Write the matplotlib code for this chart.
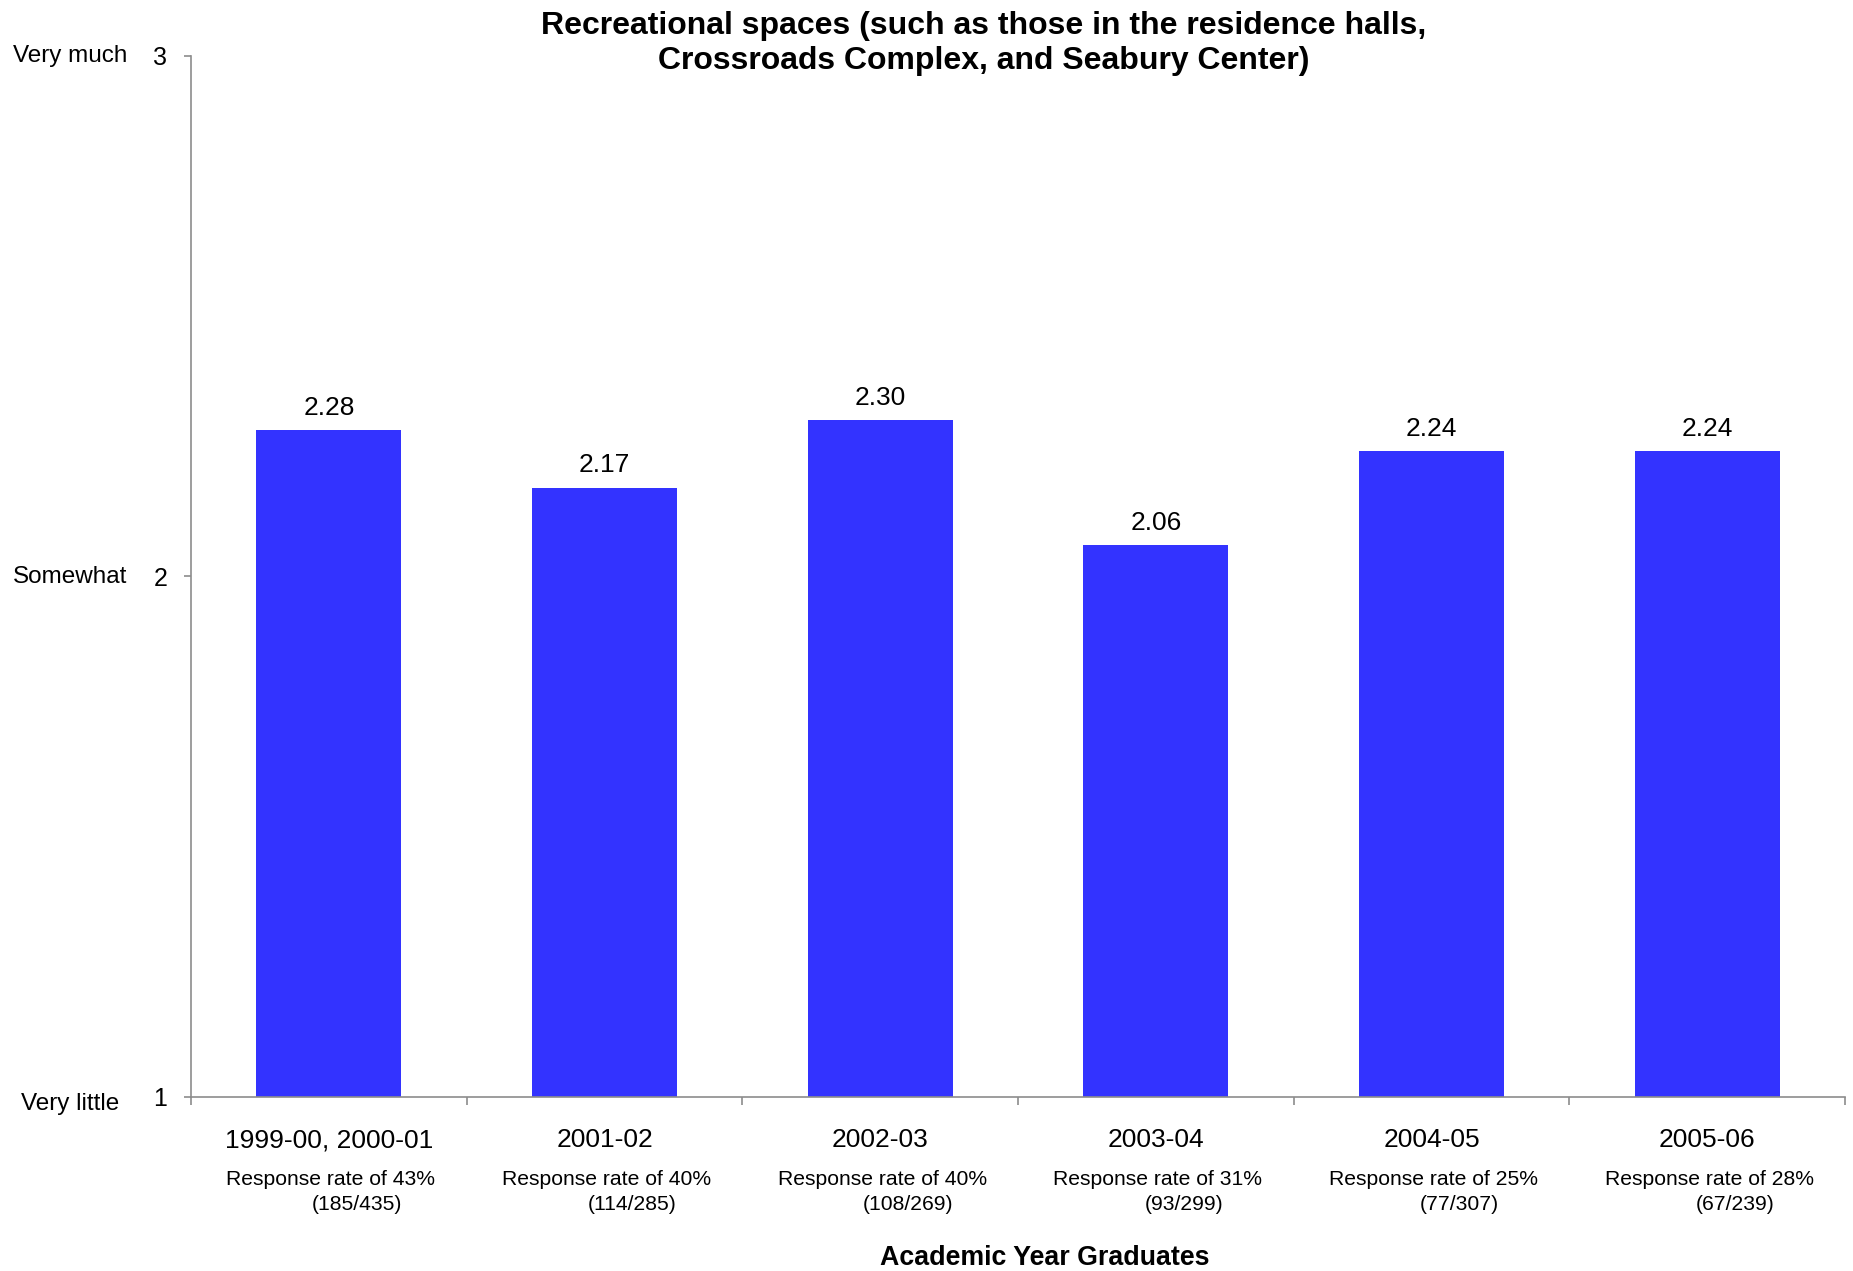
import matplotlib
matplotlib.use('Agg')
import matplotlib.pyplot as plt
import matplotlib.transforms as transforms
import numpy as np

plt.rcParams['font.family'] = ['Liberation Sans', 'DejaVu Sans']

# data
years = ['1999-00, 2000-01', '2001-02', '2002-03', '2003-04', '2004-05', '2005-06']
means = [2.28, 2.17, 2.30, 2.06, 2.24, 2.24]
rates = ['43%', '40%', '40%', '31%', '25%', '28%']
counts = ['(185/435)', '(114/285)', '(108/269)', '(93/299)', '(77/307)', '(67/239)']
scale_ticks = [1, 2, 3]
scale_names = ['Very little', 'Somewhat', 'Very much']

W, H = 1853, 1271
fig = plt.figure(figsize=(W / 100, H / 100), dpi=100)
ax = fig.add_axes([191 / W, 1 - 1096.7 / H, (1845 - 191) / W, (1096.7 - 55.5) / H])

x = np.arange(len(years))
bars = ax.bar(x, np.array(means) - 1, bottom=1, width=0.526, color='#3333FF', zorder=2)

ax.set_xlim(-0.5, len(years) - 0.5)
ax.set_ylim(1, 3)

# value labels
for xi, v in zip(x, means):
    ax.annotate(f'{v:.2f}', (xi, v), xytext=(0, 16), textcoords='offset points',
                ha='center', va='center', fontsize=19)

# spines
for s in ['top', 'right']:
    ax.spines[s].set_visible(False)
for s in ['left', 'bottom']:
    ax.spines[s].set_color('#8c8c8c')
    ax.spines[s].set_linewidth(1.2)

# y axis
ax.set_yticks(scale_ticks)
ax.set_yticklabels([str(t) for t in scale_ticks], fontsize=18)
ax.tick_params(axis='y', direction='out', length=5, width=1.2, color='#8c8c8c', pad=12)

# x axis: tick marks between categories, labels drawn by hand
ax.set_xticks(np.arange(-0.5, len(years)), minor=False)
ax.set_xticklabels([])
ax.tick_params(axis='x', direction='out', length=5.5, width=1.2, color='#8c8c8c')

xtrans = transforms.blended_transform_factory(ax.transData, ax.transAxes)
for xi, yr, r, c in zip(x, years, rates, counts):
    ax.annotate(yr, (xi, 0), xycoords=xtrans, xytext=(0, -31.5), textcoords='offset points',
                ha='center', va='center', fontsize=19)
    ax.annotate(f'Response rate of {r}', (xi, 0), xycoords=xtrans, xytext=(1.5, -59.5),
                textcoords='offset points', ha='center', va='center', fontsize=15.2)
    ax.annotate(c, (xi, 0), xycoords=xtrans, xytext=(20, -77.5),
                textcoords='offset points', ha='center', va='center', fontsize=15.2)

# scale names left of y ticks
ytrans = transforms.blended_transform_factory(fig.transFigure, ax.transData)
for t, name in zip(scale_ticks, scale_names):
    off = -5 if t == 1 else -0.7
    ax.annotate(name, (70 / W, t), xycoords=ytrans, xytext=(0, off),
                textcoords='offset points', ha='center', va='center', fontsize=17.5)

fig.text(984 / W, 1 - 43.5 / H,
         'Recreational spaces (such as those in the residence halls,\nCrossroads Complex, and Seabury Center)',
         ha='center', va='center', fontsize=23, fontweight='bold', linespacing=1.25)
fig.text(1045 / W, 1 - 1258 / H, 'Academic Year Graduates',
         ha='center', va='center', fontsize=19.3, fontweight='bold')

fig.savefig('out.png', dpi=100)
